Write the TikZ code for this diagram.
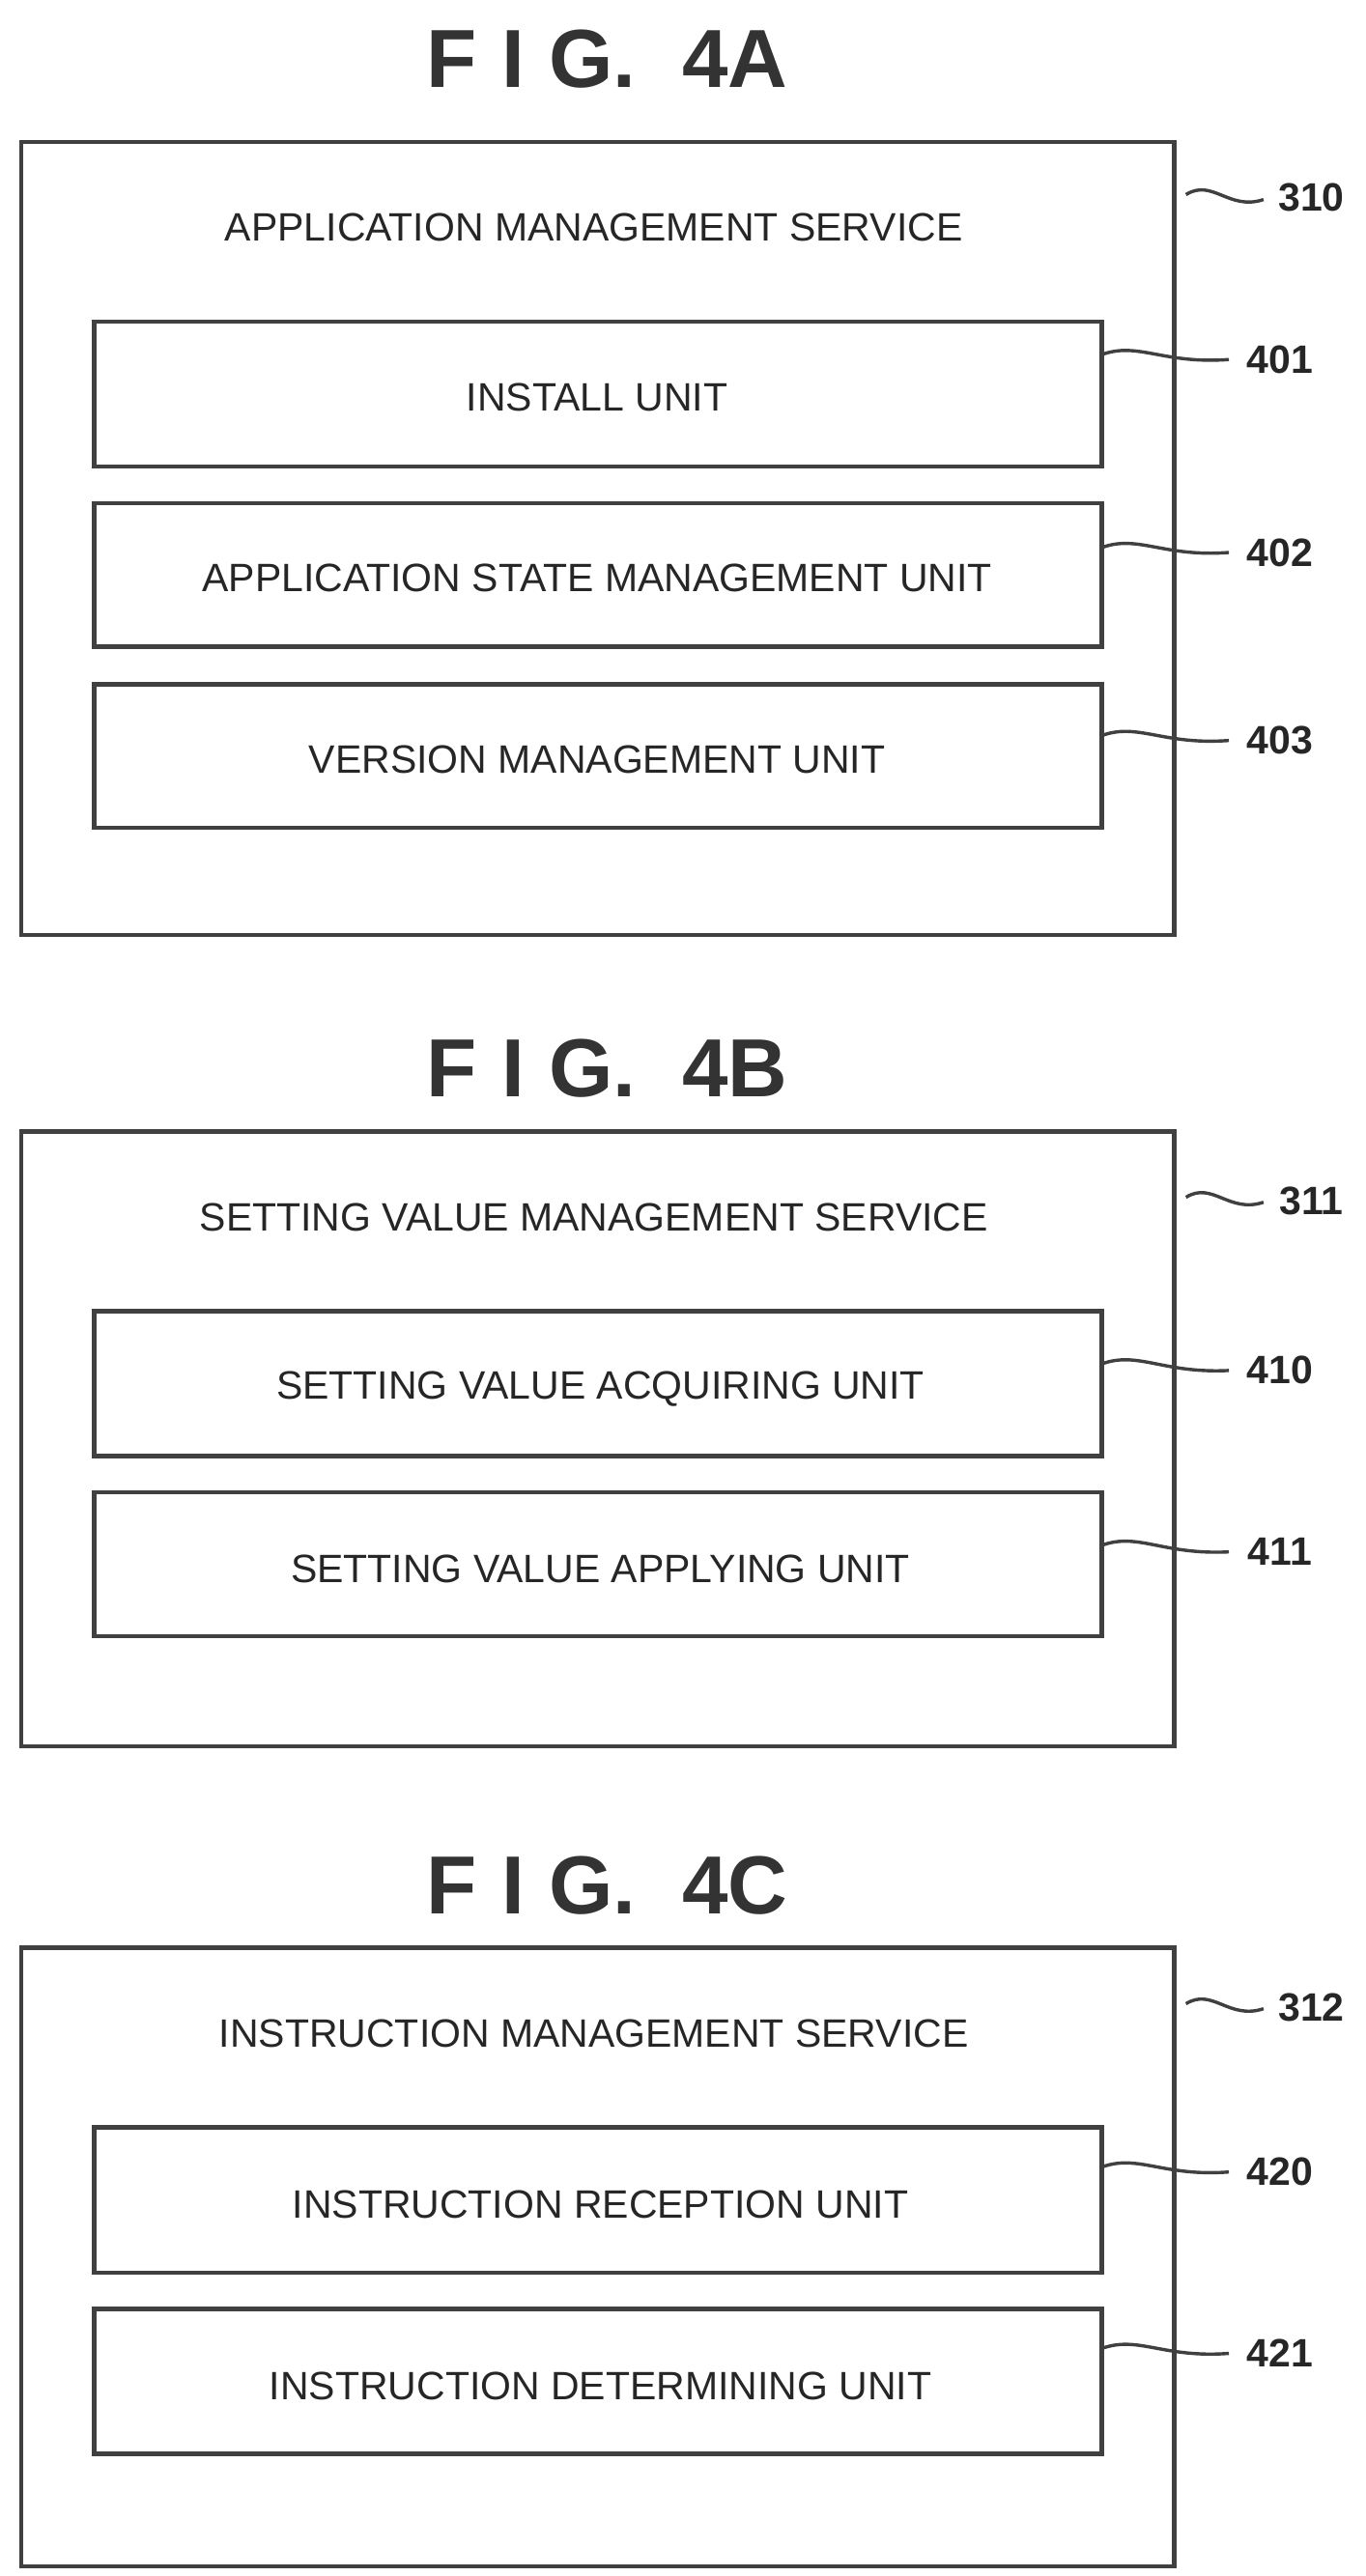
\documentclass[tikz,border=0pt]{standalone}
\usepackage{fontspec}
\setmainfont{Liberation Sans}
\begin{document}
\begin{tikzpicture}[x=1pt,y=-1pt,
 box/.style={draw=black!75,line width=2.6pt},
 ttl/.style={font=\fontsize{50}{56}\selectfont\bfseries,text=black!80},
 txt/.style={font=\fontsize{24}{28}\selectfont,text=black!85},
 num/.style={font=\fontsize{24}{28}\selectfont\bfseries,text=black!85},
 lead/.style={draw=black!75,line width=2pt}]
\useasboundingbox (0,0) rectangle (828,1562);
% Fig 4A
\node[ttl] (f4a) at (368,36) {F\hspace{0.3em}I\hspace{0.3em}G.\ \ 4A};
\draw[box] (13,86) rectangle (712,567);
\node[txt] (t310) at (360,138) {APPLICATION MANAGEMENT SERVICE};
\node[num] (n310) at (795,120) {310};
\draw[lead] (719,118) .. controls (735,108) and (745,128) .. (766,121);
\foreach \n/\a/\b/\o/\t in {401/195/283/23/INSTALL UNIT,402/305/392/30/APPLICATION STATE MANAGEMENT UNIT,403/415/502/34/VERSION MANAGEMENT UNIT}{
 \draw[box] (57,\a) rectangle (668,\b);
 \node[txt] (b\n) at (362,{(\a+\b)/2+2}) {\t};
 \node[num] (n\n) at (776,{\a+\o}) {\n};
 \draw[lead] (668,{\a+\o-3}) .. controls (690,{\a+\o-11}) and (705,{\a+\o+3}) .. (745,{\a+\o});
}
% Fig 4B
\node[ttl] (f4b) at (368,648) {F\hspace{0.3em}I\hspace{0.3em}G.\ \ 4B};
\draw[box] (13,686) rectangle (712,1059);
\node[txt] (t311) at (360,738) {SETTING VALUE MANAGEMENT SERVICE};
\node[num] (n311) at (795,728) {311};
\draw[lead] (719,726) .. controls (735,716) and (745,736) .. (766,729);
\foreach \n/\a/\b/\t in {410/795/883/SETTING VALUE ACQUIRING UNIT,411/905/992/SETTING VALUE APPLYING UNIT}{
 \draw[box] (57,\a) rectangle (668,\b);
 \node[txt] (b\n) at (364,{(\a+\b)/2+3}) {\t};
 \node[num] (n\n) at (776,{\a+36}) {\n};
 \draw[lead] (668,{\a+32}) .. controls (690,{\a+24}) and (705,{\a+38}) .. (745,{\a+36});
}
% Fig 4C
\node[ttl] (f4c) at (368,1143) {F\hspace{0.3em}I\hspace{0.3em}G.\ \ 4C};
\draw[box] (13,1181) rectangle (712,1556);
\node[txt] (t312) at (360,1233) {INSTRUCTION MANAGEMENT SERVICE};
\node[num] (n312) at (795,1217) {312};
\draw[lead] (719,1215) .. controls (735,1205) and (745,1225) .. (766,1218);
\foreach \n/\a/\b/\t in {420/1290/1378/INSTRUCTION RECEPTION UNIT,421/1400/1488/INSTRUCTION DETERMINING UNIT}{
 \draw[box] (57,\a) rectangle (668,\b);
 \node[txt] (b\n) at (364,{(\a+\b)/2+3}) {\t};
 \node[num] (n\n) at (776,{\a+27}) {\n};
 \draw[lead] (668,{\a+24}) .. controls (690,{\a+16}) and (705,{\a+30}) .. (745,{\a+27});
}
\end{tikzpicture}
\end{document}
